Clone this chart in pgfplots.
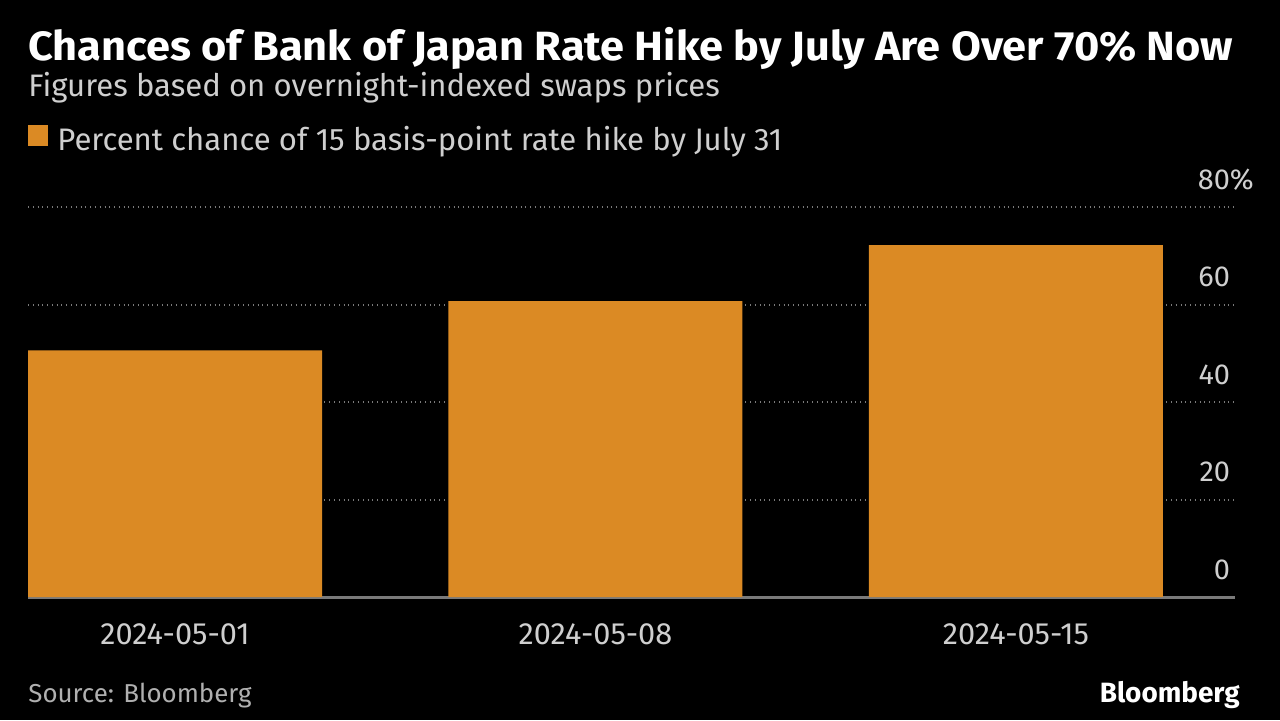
\documentclass[border=0pt]{standalone}
\usepackage{pgfplots}
\pgfplotsset{compat=1.18}
\usepackage{fontspec}
\setmainfont{Fira Sans}
\definecolor{barorange}{HTML}{DB8A24}
\definecolor{gridgray}{HTML}{7A7A7A}
\definecolor{txtgray}{HTML}{CFCFCF}
\begin{document}
\begin{tikzpicture}[x=1bp,y=1bp]
\fill[black] (0,0) rectangle (640,360);
\useasboundingbox (0,0) rectangle (640,360);
\node[anchor=base west, inner sep=0, text=white, font=\fontsize{20.5}{24}\selectfont\bfseries\addfontfeature{FakeStretch=1.06}] at (14,330) {Chances of Bank of Japan Rate Hike by July Are Over 70\% Now};
\node[anchor=base west, inner sep=0, text=txtgray, font=\fontsize{15.6}{18}\selectfont] at (14,312) {Figures based on overnight-indexed swaps prices};
\begin{axis}[
  at={(14bp,61.5bp)}, anchor=south west,
  scale only axis, width=603.5bp, height=195bp,
  xmin=-0.3496, xmax=2.521, ymin=0, ymax=80,
  axis line style={draw=none},
  tick style={draw=none},
  xtick={0,1,2},
  xticklabels={2024-05-01,2024-05-08,2024-05-15},
  xticklabel style={anchor=base, yshift=-19.5bp, text=txtgray, font=\fontsize{15.4}{18}\selectfont},
  ytick={20,40,60,80},
  yticklabels={20,40,60,80\rlap{\%}},
  yticklabel pos=right,
  yticklabel style={anchor=base east, xshift=1bp, yshift=9bp, text=txtgray, font=\fontsize{14.5}{17}\selectfont},
  ymajorgrids,
  grid style={gridgray, dotted, line width=1bp},
  extra y ticks={0},
  extra y tick labels={0},
  extra y tick style={grid style={solid, gridgray, line width=1.5bp}},
  ybar, bar width=147bp,
  legend style={at={(0,1.126)}, anchor=south west, draw=none, fill=none, inner sep=0pt,
    text=txtgray, font=\fontsize{15.6}{18}\selectfont, legend cell align=left},
  legend image code/.code={\fill[barorange] (1bp,-3bp) rectangle (11bp,7.5bp);},
]
\addplot[fill=barorange, draw=none] coordinates {(0,50.6) (1,60.7) (2,72.2)};
\addlegendentry{\hspace{2.5bp}Percent chance of 15 basis-point rate hike by July 31}
\end{axis}
\node[anchor=base west, inner sep=0, text=txtgray!85!black, font=\fontsize{13}{15}\selectfont] at (14,9) {Source: Bloomberg};
\node[anchor=base east, inner sep=0, text=white, font=\fontsize{14}{16}\selectfont\bfseries] at (620,9) {Bloomberg};
\end{tikzpicture}
\end{document}
